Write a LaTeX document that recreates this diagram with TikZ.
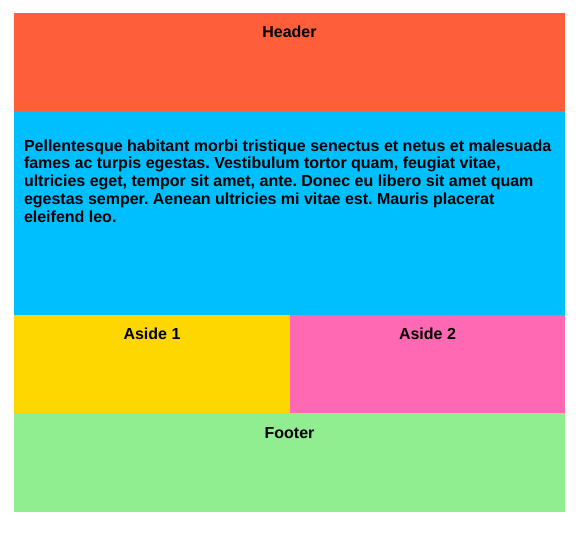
\documentclass[tikz,border=0pt]{standalone}
\usepackage{fontspec}
\setmainfont{Liberation Sans}
\usetikzlibrary{positioning}
\definecolor{headercol} {RGB} {255,94,58}
\definecolor{maincol}   {RGB} {0,191,255}
\definecolor{asideone}  {RGB} {255,215,0}
\definecolor{asidetwo}  {RGB} {255,105,180}
\definecolor{footercol} {RGB} {144,238,144}
\newcommand{\boxfont}{\frenchspacing\bfseries\fontsize{16}{17.8}\selectfont}

\begin{document}
\begin{tikzpicture}[
        box/.style = {inner sep=0pt, outer sep=0pt, anchor=north west},
        title/.style = {inner sep=0pt, outer sep=0pt, font=\boxfont},
    ]
        \useasboundingbox (0,0) rectangle (584pt,-533pt);
        \node [box, fill=headercol, minimum width=551pt, minimum height=98pt] (header) at (14pt,-13pt) {};
        \node [box, fill=maincol, minimum width=551pt, minimum height=204pt, below = 0pt of header] (main) {};
        \node [box, fill=asideone, minimum width=276pt, minimum height=98pt, below right = 0pt of main.south west] (aside1) {};
        \node [box, fill=asidetwo, minimum width=275pt, minimum height=98pt, right = 0pt of aside1] (aside2) {};
        \node [box, fill=footercol, minimum width=551pt, minimum height=99pt, below right = 0pt of aside1.south west] (footer) {};
        \node [title, below = 13pt of header.north] (headertext) {Header};
        \node [title, below = 13pt of aside1.north] (aside1text) {Aside 1};
        \node [title, below = 13pt of aside2.north] (aside2text) {Aside 2};
        \node [title, below = 14pt of footer.north] (footertext) {Footer};
        \node [title, anchor=north west, align=left] (maintext) at (24pt,-139.5pt)
            {Pellentesque habitant morbi tristique senectus et netus et malesuada\\
             fames ac turpis egestas. Vestibulum tortor quam, feugiat vitae,\\
             ultricies eget, tempor sit amet, ante. Donec eu libero sit amet quam\\
             egestas semper. Aenean ultricies mi vitae est. Mauris placerat\\
             eleifend leo.};
    \end{tikzpicture}
\end{document}
